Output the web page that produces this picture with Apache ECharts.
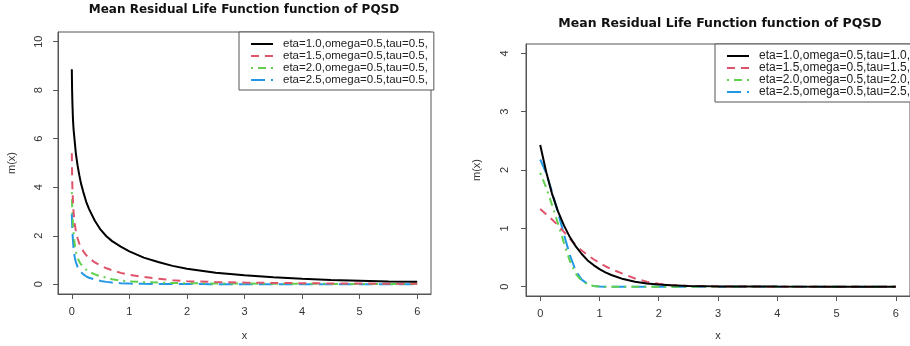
<!DOCTYPE html>
<html><head><meta charset="utf-8">
<script src="https://cdn.jsdelivr.net/npm/echarts@6/dist/echarts.min.js"></script>
<style>html,body{margin:0;padding:0;background:#fff}#c{width:910px;height:346px}</style>
</head><body><div id="c"></div>
<script>
// ---- Left panel data (tau = 0.5) ----
const xLeft = [0, 0.005, 0.01, 0.02, 0.03, 0.05, 0.07, 0.1, 0.13, 0.16, 0.2, 0.25, 0.3, 0.4, 0.5, 0.6, 0.7, 0.85, 1, 1.25, 1.5, 1.75, 2, 2.5, 3, 3.5, 4, 4.5, 5, 5.5, 6];
const leftEta10 = [8.86, 8.0, 7.5, 6.8, 6.4, 5.9, 5.4, 4.9, 4.5, 4.15, 3.8, 3.4, 3.1, 2.62, 2.25, 1.98, 1.78, 1.55, 1.36, 1.1, 0.92, 0.76, 0.64, 0.48, 0.37, 0.29, 0.23, 0.18, 0.15, 0.12, 0.1];
const leftEta15 = [5.4, 4.5, 4.0, 3.4, 3.0, 2.5, 2.2, 1.9, 1.68, 1.52, 1.36, 1.2, 1.08, 0.9, 0.77, 0.66, 0.58, 0.47, 0.39, 0.3, 0.23, 0.17, 0.13, 0.09, 0.07, 0.055, 0.045, 0.035, 0.03, 0.025, 0.02];
const leftEta20 = [3.8, 3.3, 2.95, 2.5, 2.15, 1.65, 1.35, 1.1, 0.93, 0.82, 0.72, 0.6, 0.52, 0.41, 0.33, 0.27, 0.21, 0.15, 0.12, 0.09, 0.07, 0.055, 0.045, 0.035, 0.03, 0.025, 0.02, 0.017, 0.014, 0.012, 0.01];
const leftEta25 = [2.9, 2.5, 2.2, 1.8, 1.5, 1.12, 0.92, 0.72, 0.58, 0.5, 0.41, 0.33, 0.27, 0.2, 0.14, 0.1, 0.07, 0.045, 0.03, 0.02, 0.015, 0.012, 0.01, 0.006, 0.004, 0.003, 0.002, 0.001, 0, 0, 0];
const leftNames = ['eta=1.0,omega=0.5,tau=0.5,', 'eta=1.5,omega=0.5,tau=0.5,', 'eta=2.0,omega=0.5,tau=0.5,', 'eta=2.5,omega=0.5,tau=0.5,'];

// ---- Right panel data (tau = eta) ----
const xRight = [0, 0.1, 0.2, 0.3, 0.4, 0.5, 0.6, 0.7, 0.8, 0.9, 1.0, 1.1, 1.2, 1.4, 1.6, 1.8, 2.0, 2.2, 2.5, 3, 4, 5, 6];
const rightEta10 = [2.43, 1.97, 1.59, 1.29, 1.05, 0.85, 0.69, 0.56, 0.45, 0.37, 0.30, 0.245, 0.2, 0.13, 0.085, 0.055, 0.036, 0.024, 0.013, 0.005, 0.001, 0, 0];
const rightEta15 = [1.33, 1.24, 1.15, 1.05, 0.94, 0.82, 0.71, 0.62, 0.54, 0.47, 0.41, 0.35, 0.3, 0.22, 0.14, 0.085, 0.05, 0.028, 0.012, 0.003, 0, 0, 0];
const rightEta20 = [1.95, 1.70, 1.40, 1.08, 0.75, 0.44, 0.22, 0.10, 0.04, 0.012, 0.003, 0, 0, 0, 0, 0, 0, 0, 0, 0, 0, 0, 0];
const rightEta25 = [2.18, 1.95, 1.62, 1.27, 0.90, 0.54, 0.27, 0.12, 0.045, 0.012, 0.003, 0, 0, 0, 0, 0, 0, 0, 0, 0, 0, 0, 0];
const rightNames = ['eta=1.0,omega=0.5,tau=1.0,', 'eta=1.5,omega=0.5,tau=1.5,', 'eta=2.0,omega=0.5,tau=2.0,', 'eta=2.5,omega=0.5,tau=2.5,'];

// ---- Ticks / titles ----
const xTicks = [0, 1, 2, 3, 4, 5, 6];
const yTicksLeft = [0, 2, 4, 6, 8, 10];
const yTicksRight = [0, 1, 2, 3, 4];
const titleText = 'Mean Residual Life Function function of PQSD';

const colors = ['#000000', '#DF536B', '#61D04F', '#2297E6'];
const dashes = ['solid', [8, 6], [2, 5, 8, 5], [14, 6]];
const FONT = 'Liberation Sans, Arial, sans-serif';
const boxColor = '#555';
const textColor = '#333';

function pairs(xs, ys) { return xs.map((x, i) => [x, ys[i]]); }

function mkSeries(names, xs, ys, idx) {
  return names.map((n, i) => ({
    name: n, type: 'line', xAxisIndex: idx, yAxisIndex: idx,
    data: pairs(xs, ys[i]), showSymbol: false, symbol: 'none',
    smooth: false,
    lineStyle: { color: colors[i], width: 2, type: dashes[i] },
    itemStyle: { color: colors[i] },
    z: 10 - i
  }));
}

function xAxis(gridIdx, gap) {
  return {
    type: 'value', gridIndex: gridIdx, min: -0.24, max: 6.24,
    splitLine: { show: false },
    axisLine: { show: true, onZero: false, lineStyle: { color: boxColor, width: 1 } },
    axisTick: { show: true, length: 5, customValues: xTicks, lineStyle: { color: boxColor } },
    axisLabel: { customValues: xTicks, color: textColor, fontSize: 11, fontFamily: FONT, margin: 12 },
    name: 'x', nameLocation: 'middle', nameGap: gap,
    nameTextStyle: { color: textColor, fontSize: 11, fontFamily: FONT }
  };
}
function yAxis(gridIdx, max, ticks, gap, margin) {
  return {
    type: 'value', gridIndex: gridIdx, min: -max * 0.04, max: max * 1.04,
    splitLine: { show: false },
    axisLine: { show: true, onZero: false, lineStyle: { color: boxColor, width: 1 } },
    axisTick: { show: true, length: 5, customValues: ticks, lineStyle: { color: boxColor } },
    axisLabel: { customValues: ticks, rotate: 90, color: textColor, fontSize: 11, fontFamily: FONT, margin: margin },
    name: 'm(x)', nameLocation: 'middle', nameGap: gap, nameRotate: 90,
    nameTextStyle: { color: textColor, fontSize: 11, fontFamily: FONT }
  };
}
function legend(names, left, top, pad, fs, lh) {
  return {
    data: names,
    orient: 'vertical', left: left, top: top, padding: pad,
    itemWidth: 22, itemHeight: 8, itemGap: 0,
    borderColor: boxColor, borderWidth: 1, borderRadius: 0,
    backgroundColor: '#fff',
    selectedMode: false,
    itemStyle: { color: 'transparent', borderWidth: 0, opacity: 0 },
    textStyle: { color: '#222', fontSize: fs, fontFamily: FONT, lineHeight: lh, padding: [0, 0, 0, 5] }
  };
}

const chart = echarts.init(document.getElementById('c'), null, { renderer: 'canvas' });
chart.setOption({
  animation: false,
  backgroundColor: '#fff',
  title: [
    { text: titleText, left: 244, top: 4, textAlign: 'center', padding: 0,
      textStyle: { fontFamily: 'DejaVu Sans', fontWeight: 'bold', fontSize: 12, color: '#111' } },
    { text: titleText, left: 720, top: 17, textAlign: 'center', padding: 0,
      textStyle: { fontFamily: 'DejaVu Sans', fontWeight: 'bold', fontSize: 12.5, color: '#111' } }
  ],
  legend: [
    legend(leftNames, 239, 32, [6, 6, 4, 11], 11.5, 11.5),
    legend(rightNames, 715, 44, [6, 6, 4, 11], 12, 11)
  ],
  grid: [
    { left: 58, top: 32, width: 373, height: 266, show: true, borderColor: boxColor, borderWidth: 1, backgroundColor: 'transparent' },
    { left: 526, top: 44, width: 390, height: 256, show: true, borderColor: boxColor, borderWidth: 1, backgroundColor: 'transparent' }
  ],
  xAxis: [xAxis(0, 36), xAxis(1, 34)],
  yAxis: [yAxis(0, 10, yTicksLeft, 41, 14), yAxis(1, 4, yTicksRight, 44, 16)],
  series: [].concat(
    mkSeries(leftNames, xLeft, [leftEta10, leftEta15, leftEta20, leftEta25], 0),
    mkSeries(rightNames, xRight, [rightEta10, rightEta15, rightEta20, rightEta25], 1)
  )
});
</script></body></html>
